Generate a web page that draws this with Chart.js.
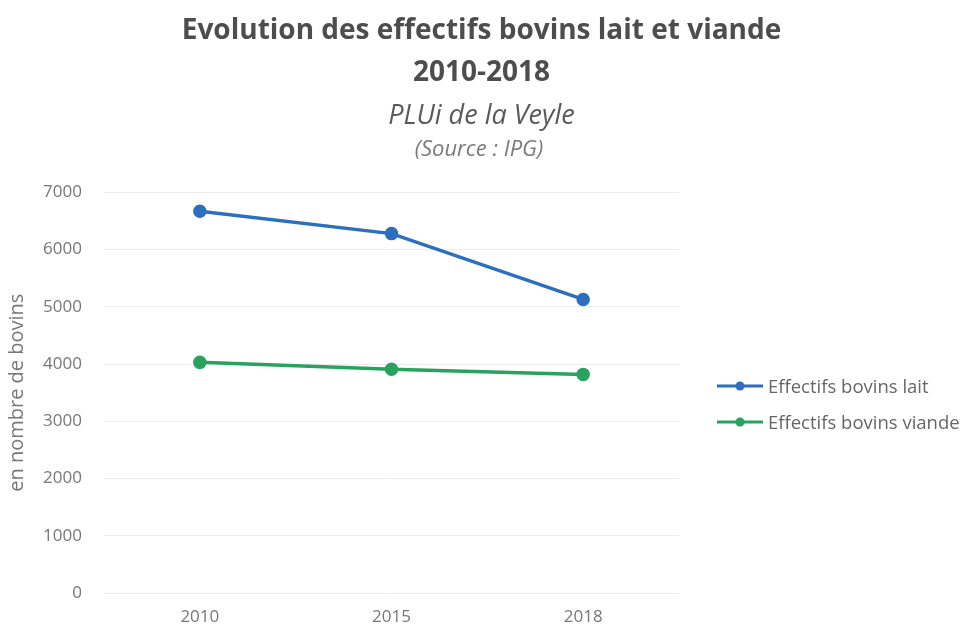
<!DOCTYPE html>
<html>
<head>
<meta charset="utf-8">
<script src="https://cdn.jsdelivr.net/npm/chart.js@4"></script>
<style>
  html, body { margin: 0; padding: 0; background: #fff; }
  #wrap { width: 968px; height: 627px; }
</style>
</head>
<body>
<div id="wrap"><canvas id="cattle-chart"></canvas></div>
<script>
// herd sizes per year
const years = ['2010', '2015', '2018'];
const laitValues = [6670, 6280, 5130];
const viandeValues = [4030, 3910, 3820];
const seriesNames = ['Effectifs bovins lait', 'Effectifs bovins viande'];
const yMin = 0, yMax = 7000, yStep = 1000;

const FONT = "'Open Sans', sans-serif";
const BLUE = '#2b6fbd';
const GREEN = '#27a35e';

// small legend on the right: a line with a dot, then the series name
const sideLegend = {
    id: 'sideLegend',
    afterDraw(chart) {
        const ctx = chart.ctx;
        const x0 = 717, rows = [386, 422];
        ctx.save();
        chart.data.datasets.forEach((ds, i) => {
            const y = rows[i];
            ctx.strokeStyle = ds.borderColor;
            ctx.lineWidth = 3;
            ctx.beginPath();
            ctx.moveTo(x0, y);
            ctx.lineTo(x0 + 46, y);
            ctx.stroke();
            ctx.fillStyle = ds.borderColor;
            ctx.beginPath();
            ctx.arc(x0 + 23, y, 4.5, 0, Math.PI * 2);
            ctx.fill();
            ctx.fillStyle = '#666';
            ctx.font = "18.5px " + FONT;
            ctx.textAlign = 'left';
            ctx.textBaseline = 'middle';
            ctx.fillText(ds.label, x0 + 51, y + 1.5);
        });
        ctx.restore();
    }
};

// second subtitle line, smaller than the first one
const sourceLine = {
    id: 'sourceLine',
    afterDraw(chart) {
        const ctx = chart.ctx;
        ctx.save();
        ctx.font = "italic 22px " + FONT;
        ctx.fillStyle = '#7a7a7a';
        ctx.textAlign = 'center';
        ctx.textBaseline = 'middle';
        ctx.fillText('(Source : IPG)', 479, 150);
        ctx.restore();
    }
};

new Chart(document.getElementById('cattle-chart'), {
    type: 'line',
    data: {
        labels: years,
        datasets: [{
            label: seriesNames[0],
            data: laitValues,
            borderColor: BLUE,
            backgroundColor: BLUE,
            borderWidth: 3.5,
            pointRadius: 5,
            pointHoverRadius: 5,
            tension: 0
        }, {
            label: seriesNames[1],
            data: viandeValues,
            borderColor: GREEN,
            backgroundColor: GREEN,
            borderWidth: 3.5,
            pointRadius: 5,
            pointHoverRadius: 5,
            tension: 0
        }]
    },
    options: {
        responsive: true,
        maintainAspectRatio: false,
        animation: false,
        layout: { padding: { left: 1, bottom: 0, right: 6, top: 0 } },
        plugins: {
            title: {
                display: true,
                text: ['Evolution des effectifs bovins lait et viande', '2010-2018'],
                color: '#4d4d4d',
                font: { family: FONT, size: 28, weight: 'bold', lineHeight: 1.5 },
                padding: { top: 10, bottom: 6 }
            },
            subtitle: {
                display: true,
                text: 'PLUi de la Veyle',
                color: '#5a5a5a',
                font: { family: FONT, size: 27, style: 'italic', lineHeight: 1.2 },
                padding: { top: 0, bottom: 60 }
            },
            legend: { display: false },
            tooltip: { enabled: false }
        },
        scales: {
            x: {
                offset: true,
                grid: { display: false, drawTicks: false },
                border: { display: false },
                ticks: {
                    color: '#777',
                    padding: 14,
                    font: { family: FONT, size: 17 }
                },
                afterFit: scale => { scale.height = 34; }
            },
            y: {
                min: yMin,
                max: yMax,
                grid: { color: '#ececec', lineWidth: 1, drawTicks: false },
                border: { display: false },
                ticks: {
                    stepSize: yStep,
                    color: '#777',
                    padding: 22,
                    font: { family: FONT, size: 17 },
                    callback: value => String(value)
                },
                title: {
                    display: true,
                    text: 'en nombre de bovins',
                    color: '#777',
                    padding: { top: 4, bottom: 0 },
                    font: { family: FONT, size: 20 }
                },
                afterFit: scale => { scale.width = 103; }
            },
            // empty axis on the right keeps room for the legend
            side: {
                position: 'right',
                grid: { display: false, drawTicks: false },
                border: { display: false },
                ticks: { display: false },
                afterFit: scale => { scale.width = 283; }
            }
        }
    },
    plugins: [sideLegend, sourceLine]
});
</script>
</body>
</html>
